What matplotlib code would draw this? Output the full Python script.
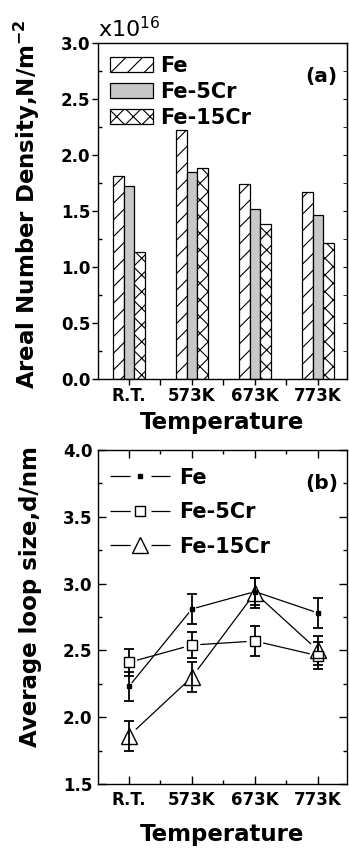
import numpy as np
import matplotlib
matplotlib.use("Agg")
import matplotlib.pyplot as plt
from matplotlib.ticker import MultipleLocator, FixedLocator, FormatStrFormatter
from matplotlib.lines import Line2D

plt.rcParams['font.family'] = ['DejaVu Sans']
plt.rcParams['font.weight'] = 'bold'
plt.rcParams['hatch.linewidth'] = 0.8
plt.rcParams['lines.scale_dashes'] = False

categories = ["R.T.", "573K", "673K", "773K"]
series = ["Fe", "Fe-5Cr", "Fe-15Cr"]

# Panel (a): areal number density (x1e16 N/m^2)
dens_fe = [1.81, 2.22, 1.74, 1.67]
dens_5cr = [1.72, 1.85, 1.52, 1.46]
dens_15cr = [1.13, 1.88, 1.38, 1.21]

# Panel (b): average loop size (nm) and error
size_fe = [2.23, 2.81, 2.94, 2.78]
err_fe = [0.11, 0.11, 0.10, 0.11]
size_5cr = [2.41, 2.54, 2.57, 2.46]
err_5cr = [0.10, 0.10, 0.11, 0.10]
size_15cr = [1.86, 2.30, 2.93, 2.50]
err_15cr = [0.11, 0.11, 0.11, 0.11]

W, H = 349, 851
fig = plt.figure(figsize=(W / 100, H / 100), dpi=100)

def axrect(l, t, r, b):
    return [l / W, 1 - b / H, (r - l) / W, (b - t) / H]

x = np.arange(len(categories))

# ---------------- Panel (a) ----------------
ax1 = fig.add_axes(axrect(98, 43, 347, 379))
bw = 0.17
ax1.bar(x - bw, dens_fe, bw, facecolor='white', edgecolor='black', hatch='//', linewidth=0.9, label=series[0])
ax1.bar(x, dens_5cr, bw, facecolor='#c8c8c8', edgecolor='black', linewidth=0.9, label=series[1])
ax1.bar(x + bw, dens_15cr, bw, facecolor='white', edgecolor='black', hatch='xx', linewidth=0.9, label=series[2])
ax1.set_xlim(-0.49, 3.46)
ax1.set_ylim(0, 3.0)
ax1.set_xticks(x)
ax1.set_xticklabels(categories)
ax1.xaxis.set_minor_locator(FixedLocator(x[:-1] + 0.5))
ax1.yaxis.set_major_locator(MultipleLocator(0.5))
ax1.yaxis.set_minor_locator(MultipleLocator(0.25))
ax1.yaxis.set_major_formatter(FormatStrFormatter('%.1f'))
ax1.tick_params(axis='y', which='major', direction='out', length=4, width=1, labelsize=12, pad=1.5)
ax1.tick_params(axis='y', which='minor', direction='in', length=3, width=1)
ax1.tick_params(axis='x', which='both', direction='out', length=4, width=1, labelsize=12, pad=2)
sec = ax1.secondary_yaxis('right')
sec.yaxis.set_major_locator(MultipleLocator(0.5))
sec.yaxis.set_minor_locator(MultipleLocator(0.25))
sec.tick_params(which='both', direction='in', length=3, labelright=False)
for s in ax1.spines.values():
    s.set_linewidth(1.0)
ax1.set_ylabel('Areal Number Density,N/m$^{\\mathbf{-2}}$', fontsize=16.5, fontweight='bold')
ax1.yaxis.set_label_coords(-0.225, 0.52)
ax1.set_xlabel('Temperature', fontsize=16.5, fontweight='bold', labelpad=4)
ax1.text(0.96, 0.9, '(a)', transform=ax1.transAxes, ha='right', va='center', fontsize=14.5, fontweight='bold')
ax1.text(0.0, 1.005, r'x10$^{\mathregular{16}}$', transform=ax1.transAxes, ha='left', va='bottom',
         fontsize=16, fontweight='normal')
ax1.legend(loc='upper left', bbox_to_anchor=(0.03, 0.975), frameon=False, fontsize=15,
           handlelength=2.1, handleheight=0.7, handletextpad=0.3, labelspacing=0.3,
           borderpad=0.2, borderaxespad=0)

# ---------------- Panel (b) ----------------
ax2 = fig.add_axes(axrect(98, 450, 347, 784))
ax2.set_xlim(-0.49, 3.46)
ax2.set_ylim(1.5, 4.0)

styles = [
    dict(marker='s', ms=3.5, mfc='black', mec='black', mew=1.0, gap=5),
    dict(marker='s', ms=7.5, mfc='white', mec='black', mew=1.0, gap=9),
    dict(marker='^', ms=11, mfc='none', mec='black', mew=1.0, gap=10),
]
data_b = [(size_fe, err_fe), (size_5cr, err_5cr), (size_15cr, err_15cr)]

def gapped_line(ax, xs, ys, gap):
    pts = ax.transData.transform(np.column_stack([xs, ys]))
    inv = ax.transData.inverted()
    for i in range(len(pts) - 1):
        p0, p1 = pts[i], pts[i + 1]
        d = p1 - p0
        L = np.hypot(*d)
        u = d / L
        a = inv.transform(p0 + u * gap)
        b = inv.transform(p1 - u * gap)
        ax.plot([a[0], b[0]], [a[1], b[1]], color='black', lw=0.9, zorder=2)

handles = []
for (vals, errs), st, name in zip(data_b, styles, series):
    gapped_line(ax2, x, vals, st['gap'])
    ax2.errorbar(x, vals, yerr=errs, fmt='none', ecolor='black', elinewidth=1.3, capsize=3.5, capthick=1.3,
                 zorder=3)
    ax2.plot(x, vals, linestyle='none', marker=st['marker'], ms=st['ms'], mfc=st['mfc'], mec=st['mec'],
             mew=st['mew'], zorder=4)
    handles.append(Line2D([], [], color='black', lw=0.9, dashes=(14.5, 15), marker=st['marker'], ms=st['ms'],
                          mfc=st['mfc'] if st['mfc'] != 'none' else 'white', mec=st['mec'], mew=st['mew'],
                          label=name))

ax2.set_xticks(x)
ax2.set_xticklabels(categories)
ax2.xaxis.set_minor_locator(FixedLocator(x[:-1] + 0.5))
ax2.yaxis.set_major_locator(MultipleLocator(0.5))
ax2.yaxis.set_minor_locator(MultipleLocator(0.25))
ax2.yaxis.set_major_formatter(FormatStrFormatter('%.1f'))
ax2.tick_params(which='major', direction='in', length=5.5, width=1, top=True, right=True)
ax2.tick_params(which='minor', direction='in', length=3, width=1, top=True, right=True)
ax2.tick_params(axis='y', labelsize=12, pad=4)
ax2.tick_params(axis='x', labelsize=12, pad=5)
for s in ax2.spines.values():
    s.set_linewidth(1.0)
ax2.set_ylabel('Average loop size,d/nm', fontsize=16.5, fontweight='bold')
ax2.yaxis.set_label_coords(-0.225, 0.56)
ax2.set_xlabel('Temperature', fontsize=16.5, fontweight='bold', labelpad=10)
ax2.text(0.965, 0.9, '(b)', transform=ax2.transAxes, ha='right', va='center', fontsize=14.5, fontweight='bold')
ax2.legend(handles=handles, loc='upper left', bbox_to_anchor=(0.03, 0.96), frameon=False, fontsize=15,
           handlelength=2.9, handletextpad=0.45, labelspacing=0.7, borderpad=0.2, borderaxespad=0)

fig.savefig('out.png', dpi=100)
